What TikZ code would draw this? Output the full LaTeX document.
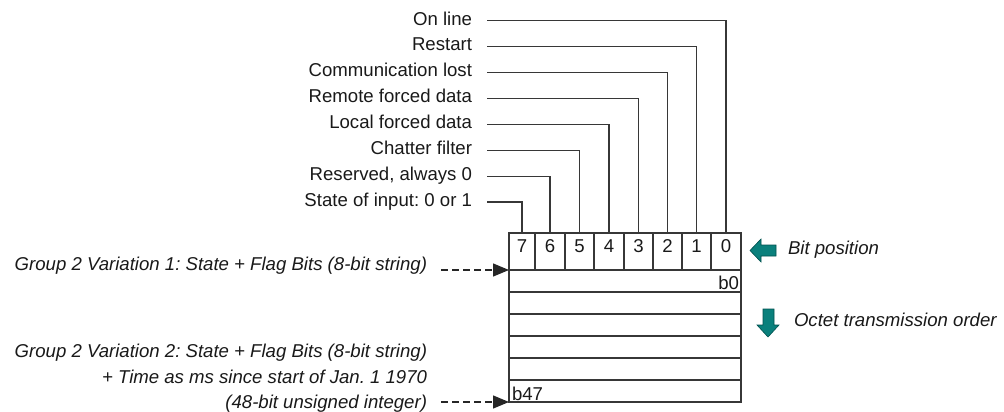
\documentclass[tikz,border=0pt]{standalone}
\usepackage{fontspec}
\setmainfont{Liberation Sans}
\usetikzlibrary{arrows.meta}
\definecolor{tealA}{RGB}{10,128,124}
\definecolor{tealB}{RGB}{0,80,78}
\definecolor{ln}{RGB}{55,55,55}
\frenchspacing
\begin{document}
\frenchspacing
\begin{tikzpicture}[x=1pt,y=-1pt,
  every node/.style={font=\fontsize{18.6}{22}\selectfont, inner sep=0pt, outer sep=0pt, text=black!90},
  flag/.style={anchor=east, text height=13.4pt, text depth=4.6pt},
  cell/.style={draw=ln, line width=1.1pt, minimum height=37pt, text height=13.4pt, text depth=11pt},
  row/.style={draw=ln, line width=1.1pt, minimum width=232pt, minimum height=22pt},
  leader/.style={draw=ln, line width=1.1pt},
  note/.style={font=\fontsize{18.6}{22}\selectfont\itshape, anchor=base east},
  dasharrow/.style={draw=black!85, line width=1.3pt, dash pattern=on 7pt off 4pt, -{Triangle[length=16pt,width=13pt]}},
  bigarrow/.style={fill=tealA, draw=tealB, line width=0.6pt, line join=miter}
]
\useasboundingbox (0,0) rectangle (1004,412);

% header cells (bit positions)
\node[cell, minimum width=26pt] (c7) at (522,251.5) {7};
\node[cell, minimum width=30pt] (c6) at (550,251.5) {6};
\node[cell, minimum width=29pt] (c5) at (579.5,251.5) {5};
\node[cell, minimum width=30pt] (c4) at (609,251.5) {4};
\node[cell, minimum width=29pt] (c3) at (638.5,251.5) {3};
\node[cell, minimum width=29pt] (c2) at (667.5,251.5) {2};
\node[cell, minimum width=29pt] (c1) at (696.5,251.5) {1};
\node[cell, minimum width=30pt] (c0) at (726,251.5) {0};
\draw[ln, line width=2pt] (c3.north west) -- (c3.south west);
\draw[ln, line width=2pt] (c1.north west) -- (c1.south west);

% octet rows
\node[row] (r1) at (625,281) {};
\node[row] (r2) at (625,303) {};
\node[row] (r3) at (625,325) {};
\node[row] (r4) at (625,347) {};
\node[row] (r5) at (625,369) {};
\node[row] (r6) at (625,391) {};
\node[anchor=base east] (b0) at (739,289) {b0};
\node[anchor=base west] (b47) at (512,400) {b47};

% flag labels
\node[flag] (l0) at (472,20.7) {On line};
\node[flag] (l1) at (472,46.6) {Restart};
\node[flag] (l2) at (472,72.5) {Communication lost};
\node[flag] (l3) at (472,98.4) {Remote forced data};
\node[flag] (l4) at (472,124.3) {Local forced data};
\node[flag] (l5) at (472,150.2) {Chatter filter};
\node[flag] (l6) at (472,176.1) {Reserved, always 0};
\node[flag] (l7) at (472,202) {State of input: 0 or 1};
\draw[leader] ([xshift=15pt]l0.east) -| (c0.north);
\draw[leader] ([xshift=15pt]l1.east) -| (c1.north);
\draw[leader] ([xshift=15pt]l2.east) -| (c2.north);
\draw[leader] ([xshift=15pt]l3.east) -| (c3.north);
\draw[leader] ([xshift=15pt]l4.east) -| (c4.north);
\draw[leader] ([xshift=15pt]l5.east) -| (c5.north);
\draw[leader] ([xshift=15pt]l6.east) -| (c6.north);
\draw[leader] ([xshift=15pt]l7.east) -| (c7.north);

% left notes
\node[note] (v1) at (427,270) {Group 2 Variation 1: State + Flag Bits (8-bit string)};
\node[note] (v2a) at (427,357.4) {Group 2 Variation 2: State + Flag Bits (8-bit string)};
\node[note] (v2b) at (427,383) {+ Time as ms since start of Jan. 1 1970};
\node[note] (v2c) at (427,408.6) {(48-bit unsigned integer)};
\coordinate (d1) at (441,270);
\coordinate (d2) at (441,402);
\draw[dasharrow] (d1) -- (r1.north west);
\draw[dasharrow] (d2) -- (r6.south west);

% right side arrows
\draw[bigarrow] (750,250.5) -- (761,239) -- (761,245) -- (776,245) -- (776,256) -- (761,256) -- (761,262) -- cycle;
\node[note, anchor=base west] (bp) at (788,254.5) {Bit position};
\draw[bigarrow] (763,309) -- (774,309) -- (774,325) -- (779,325) -- (768,337) -- (757,325) -- (763,325) -- cycle;
\node[note, anchor=base west] (oto) at (794,326) {Octet transmission order};
\end{tikzpicture}
\end{document}
